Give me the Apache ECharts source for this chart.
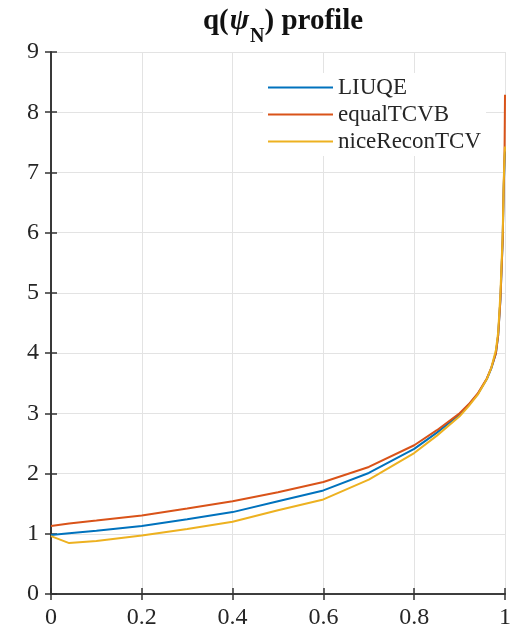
<!DOCTYPE html>
<html>
<head>
<meta charset="utf-8">
<script src="https://cdn.jsdelivr.net/npm/echarts@6/dist/echarts.min.js"></script>
<style>
html,body{margin:0;padding:0;background:#fff;}
#chart{width:514px;height:634px;}
</style>
</head>
<body>
<div id="chart"></div>
<script>
// Normalized poloidal flux (x values)
const psi = [0, 0.04, 0.1, 0.2, 0.3, 0.4, 0.5, 0.6, 0.7, 0.8, 0.85, 0.9, 0.92, 0.94, 0.96, 0.97, 0.98, 0.985, 0.99, 0.995, 0.997, 0.999, 1.0];
// q profiles
const qLIUQE = [0.98, 1.01, 1.05, 1.13, 1.24, 1.36, 1.54, 1.72, 2.01, 2.41, 2.68, 2.98, 3.14, 3.32, 3.57, 3.75, 4.0, 4.3, 4.9, 5.9, 6.7, 7.2, 7.35];
const qEqualTCVB = [1.13, 1.17, 1.22, 1.305, 1.42, 1.54, 1.69, 1.86, 2.11, 2.47, 2.72, 3.0, 3.15, 3.33, 3.58, 3.76, 4.0, 4.3, 4.9, 5.9, 6.7, 7.3, 8.29];
const qNiceReconTCV = [0.96, 0.845, 0.88, 0.97, 1.08, 1.2, 1.39, 1.57, 1.9, 2.34, 2.63, 2.95, 3.12, 3.31, 3.57, 3.76, 4.05, 4.35, 5.0, 6.0, 6.8, 7.3, 7.43];
const seriesNames = ['LIUQE', 'equalTCVB', 'niceReconTCV'];
const xTickLabels = ['0', '0.2', '0.4', '0.6', '0.8', '1'];

const colors = ['#0072BD', '#D95319', '#EDB120'];
const font = "'Liberation Serif', 'DejaVu Serif', serif";
const txt = '#262626';
const axisCol = '#333333';

function pairs(q){ return psi.map((x, i) => [x, q[i]]); }

const chart = echarts.init(document.getElementById('chart'));
const tickLabelMap = {};
xTickLabels.forEach((s, i) => { tickLabelMap[(i * 0.2).toFixed(1)] = s; });

const baseX = {
  type: 'value', min: 0, max: 1, interval: 0.2,
  axisLine: {show: true, lineStyle: {color: axisCol, width: 1.6}},
  axisTick: {show: true, inside: true, length: 6, lineStyle: {color: axisCol, width: 1.5}},
  splitLine: {show: false}
};
const baseY = {
  type: 'value', min: 0, max: 9, interval: 1,
  axisLine: {show: true, lineStyle: {color: axisCol, width: 1.6}},
  axisTick: {show: true, inside: true, length: 6, lineStyle: {color: axisCol, width: 1.5}},
  splitLine: {show: false}
};

chart.setOption({
  animation: false,
  backgroundColor: '#fff',
  title: {
    text: '{b|q(}{i|ψ}{s|N}{b|) profile}',
    left: 278, top: 2, textAlign: 'center',
    textStyle: {
      rich: {
        b: {fontFamily: font, fontWeight: 'bold', fontSize: 29, color: '#111', verticalAlign: 'bottom', padding: [0, 0, 11, 0]},
        i: {fontFamily: font, fontWeight: 'bold', fontStyle: 'italic', fontSize: 29, color: '#111', verticalAlign: 'bottom', padding: [0, 1, 11, 1]},
        s: {fontFamily: font, fontWeight: 'bold', fontSize: 20, color: '#111', verticalAlign: 'bottom', padding: [0, 0, 0, 0]}
      }
    }
  },
  grid: {left: 51, right: 4, top: 52, bottom: 40, containLabel: false},
  legend: {
    data: seriesNames,
    orient: 'vertical',
    icon: 'rect',
    left: 263, top: 73,
    padding: [3, 5, 3, 5],
    itemWidth: 65, itemHeight: 2, itemGap: 4,
    backgroundColor: '#fff',
    textStyle: {fontFamily: font, fontSize: 23, color: txt, padding: [0, 0, 0, 0]}
  },
  xAxis: [
    Object.assign({}, baseX, {
      position: 'bottom',
      axisLabel: {fontFamily: font, fontSize: 24, color: txt, margin: 12,
        formatter: v => tickLabelMap[v.toFixed(1)] ?? String(v)},
      splitLine: {show: true, lineStyle: {color: '#e3e3e3', width: 1}}
    }),
    Object.assign({}, baseX, {position: 'top', axisLabel: {show: false}})
  ],
  yAxis: [
    Object.assign({}, baseY, {
      position: 'left',
      axisLabel: {fontFamily: font, fontSize: 24, color: txt, margin: 12},
      splitLine: {show: true, lineStyle: {color: '#e3e3e3', width: 1}}
    }),
    Object.assign({}, baseY, {position: 'right', axisLabel: {show: false}})
  ],
  series: [
    {name: seriesNames[0], type: 'line', data: pairs(qLIUQE), symbol: 'none', lineStyle: {width: 2, color: colors[0]}, itemStyle: {color: colors[0]}},
    {name: seriesNames[1], type: 'line', data: pairs(qEqualTCVB), symbol: 'none', lineStyle: {width: 2, color: colors[1]}, itemStyle: {color: colors[1]}},
    {name: seriesNames[2], type: 'line', data: pairs(qNiceReconTCV), symbol: 'none', lineStyle: {width: 2, color: colors[2]}, itemStyle: {color: colors[2]}}
  ]
});
</script>
</body>
</html>
